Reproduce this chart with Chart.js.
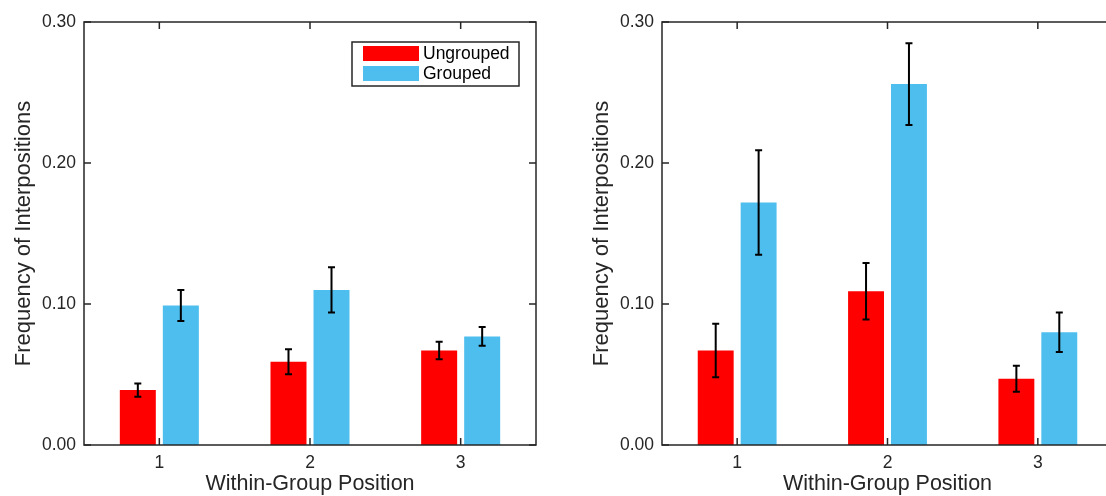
<!DOCTYPE html>
<html>
<head>
<meta charset="utf-8">
<script src="https://cdn.jsdelivr.net/npm/chart.js@4.4.1/dist/chart.umd.min.js"></script>
<style>
  html, body { margin: 0; padding: 0; background: #fff; overflow: hidden; }
  body { width: 1106px; height: 496px; position: relative; }
  canvas { position: absolute; top: 0; }
  #left { left: 0; }
  #right { left: 578px; }
</style>
</head>
<body>
<canvas id="left" width="560" height="496"></canvas>
<canvas id="right" width="559" height="496"></canvas>
<script>
// data
const positions = ['1', '2', '3'];
const seriesNames = ['Ungrouped', 'Grouped'];
const leftUngrouped = [0.039, 0.059, 0.067];
const leftUngroupedErr = [0.0047, 0.0089, 0.0062];
const leftGrouped = [0.099, 0.110, 0.077];
const leftGroupedErr = [0.011, 0.016, 0.0066];
const rightUngrouped = [0.067, 0.109, 0.047];
const rightUngroupedErr = [0.019, 0.020, 0.0092];
const rightGrouped = [0.172, 0.256, 0.080];
const rightGroupedErr = [0.037, 0.029, 0.014];
const yMin = 0, yMax = 0.30, yStep = 0.10;

const RED = '#ff0000';
const BLUE = '#4dbeee';
const INK = '#262626';
const FONT = "'Liberation Sans', Arial, Helvetica, sans-serif";

// error bars from dataset.errors
const errorBars = {
  id: 'errorBars',
  afterDatasetsDraw(chart) {
    const ctx = chart.ctx;
    const y = chart.scales.y;
    ctx.save();
    ctx.strokeStyle = '#000';
    ctx.lineWidth = 2;
    chart.data.datasets.forEach((ds, i) => {
      const meta = chart.getDatasetMeta(i);
      meta.data.forEach((bar, j) => {
        const v = ds.data[j], e = ds.errors[j];
        const y1 = y.getPixelForValue(v + e);
        const y2 = y.getPixelForValue(v - e);
        ctx.beginPath();
        ctx.moveTo(bar.x, y1); ctx.lineTo(bar.x, y2);
        ctx.moveTo(bar.x - 3.5, y1); ctx.lineTo(bar.x + 3.5, y1);
        ctx.moveTo(bar.x - 3.5, y2); ctx.lineTo(bar.x + 3.5, y2);
        ctx.stroke();
      });
    });
    ctx.restore();
  }
};

// matlab style box with inward ticks
const boxAxes = {
  id: 'boxAxes',
  afterDraw(chart) {
    const ctx = chart.ctx;
    const a = chart.chartArea;
    const xs = chart.scales.x, ys = chart.scales.y;
    const tl = 7;
    ctx.save();
    ctx.strokeStyle = INK;
    ctx.lineWidth = 1.5;
    ctx.beginPath();
    ys.ticks.forEach((t, i) => {
      const py = ys.getPixelForTick(i);
      ctx.moveTo(a.left, py); ctx.lineTo(a.left + tl, py);
      ctx.moveTo(a.right, py); ctx.lineTo(a.right - tl, py);
    });
    xs.ticks.forEach((t, i) => {
      const px = xs.getPixelForTick(i);
      ctx.moveTo(px, a.bottom); ctx.lineTo(px, a.bottom - tl);
      ctx.moveTo(px, a.top); ctx.lineTo(px, a.top + tl);
    });
    ctx.stroke();
    ctx.strokeRect(a.left, a.top, a.right - a.left, a.bottom - a.top);
    ctx.restore();
  }
};

// legend box inside the left panel
const boxLegend = {
  id: 'boxLegend',
  afterDraw(chart, args, opts) {
    if (!opts.show) return;
    const ctx = chart.ctx;
    const a = chart.chartArea;
    const w = 167, h = 44;
    const x0 = a.right - 17 - w, y0 = a.top + 20;
    ctx.save();
    ctx.fillStyle = '#fff';
    ctx.fillRect(x0, y0, w, h);
    ctx.strokeStyle = INK;
    ctx.lineWidth = 1.5;
    ctx.strokeRect(x0, y0, w, h);
    ctx.font = '17.5px ' + FONT;
    ctx.textBaseline = 'middle';
    chart.data.datasets.forEach((ds, i) => {
      const cy = y0 + 11.5 + i * 20;
      ctx.fillStyle = ds.backgroundColor;
      ctx.fillRect(x0 + 11, cy - 7.5, 56, 15);
      ctx.fillStyle = '#000';
      ctx.fillText(ds.label, x0 + 71, cy + 0.5);
    });
    ctx.restore();
  }
};

function makeChart(id, ungrouped, ungroupedErr, grouped, groupedErr, showLegend) {
  return new Chart(document.getElementById(id), {
    type: 'bar',
    data: {
      labels: positions,
      datasets: [
        { label: seriesNames[0], data: ungrouped, errors: ungroupedErr, backgroundColor: RED,
          categoryPercentage: 0.571, barPercentage: 0.837 },
        { label: seriesNames[1], data: grouped, errors: groupedErr, backgroundColor: BLUE,
          categoryPercentage: 0.571, barPercentage: 0.837 }
      ]
    },
    options: {
      responsive: false,
      animation: false,
      layout: { padding: { top: 22, right: 24, left: 0, bottom: 0 } },
      plugins: {
        legend: { display: false },
        tooltip: { enabled: false },
        boxLegend: { show: showLegend }
      },
      scales: {
        x: {
          grid: { display: false },
          border: { display: false },
          ticks: { color: INK, font: { family: FONT, size: 17.5 }, padding: 0 },
          title: { display: true, text: 'Within-Group Position', color: INK,
                   font: { family: FONT, size: 21.5 }, padding: { top: 0, bottom: -1 } },
          afterFit(s) { s.height = 51; }
        },
        y: {
          min: yMin, max: yMax,
          grid: { display: false },
          border: { display: false },
          ticks: { stepSize: yStep, color: INK, font: { family: FONT, size: 17.5 }, padding: 0,
                   callback: v => v.toFixed(2) },
          title: { display: true, text: 'Frequency of Interpositions', color: INK,
                   font: { family: FONT, size: 22 }, padding: { top: 11, bottom: 0 } },
          afterFit(s) { s.width = 84; }
        }
      }
    },
    plugins: [errorBars, boxAxes, boxLegend]
  });
}

makeChart('left', leftUngrouped, leftUngroupedErr, leftGrouped, leftGroupedErr, true);
makeChart('right', rightUngrouped, rightUngroupedErr, rightGrouped, rightGroupedErr, false);
</script>
</body>
</html>
